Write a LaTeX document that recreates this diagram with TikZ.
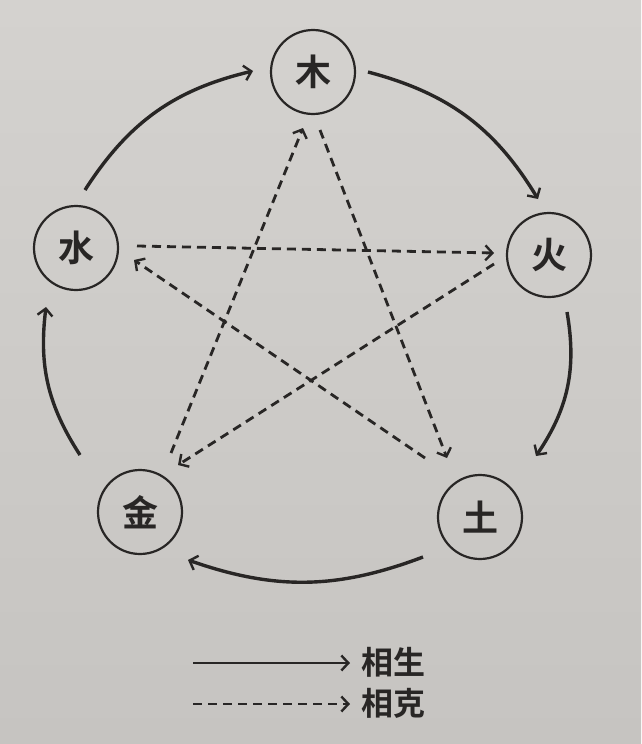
\documentclass[tikz,border=0pt]{standalone}
\usepackage{fontspec}
\newfontfamily\cjk{Noto Sans CJK SC}[BoldFont={* Bold}]
\usetikzlibrary{arrows.meta}
\definecolor{paper1}{RGB}{212,210,207}
\definecolor{paper2}{RGB}{198,196,193}
\definecolor{ink}{RGB}{40,38,37}
\tikzset{
  elem/.style={circle, draw=ink, line width=2.2pt, minimum size=84pt, inner sep=0pt,
    font=\cjk\bfseries\fontsize{36}{36}\selectfont, text=ink},
  tip/.style={-{Straight Barb[length=7pt,width=15pt,line width=2.4pt]}},
  sheng/.style={tip, draw=ink, line width=3.4pt},
  ke/.style={tip, draw=ink, line width=2.8pt, dash pattern=on 9pt off 6pt},
  legtext/.style={font=\cjk\bfseries\fontsize{32}{32}\selectfont, text=ink, anchor=west}
}
\begin{document}
\begin{tikzpicture}[x=1pt,y=-1pt]
\shade[top color=paper1, bottom color=paper2] (0,0) rectangle (641,744);
\useasboundingbox (0,0) rectangle (641,744);
% elements
\node[elem] (mu)   at (313,72)  {木};
\node[elem] (huo)  at (549,255) {火};
\node[elem] (tu)   at (480,517) {土};
\node[elem] (jin)  at (140,512) {金};
\node[elem] (shui) at (76,248)  {水};
% sheng endpoints
\coordinate (s1a) at (85,190);   \coordinate (s1b) at (253,71);
\coordinate (s2a) at (368,72);   \coordinate (s2b) at (538,199);
\coordinate (s3a) at (567,312);  \coordinate (s3b) at (536,456);
\coordinate (s4a) at (423,557);  \coordinate (s4b) at (188,560);
\coordinate (s5a) at (80,455);   \coordinate (s5b) at (46,307);
\draw[sheng] (s1a) to[bend left=22] (s1b);
\draw[sheng] (s2a) to[bend left=22] (s2b);
\draw[sheng] (s3a) to[bend left=22] (s3b);
\draw[sheng] (s4a) to[bend left=20] (s4b);
\draw[sheng] (s5a) to[bend left=20] (s5b);
% ke endpoints
\coordinate (k1a) at (320,130);  \coordinate (k1b) at (447,458);
\coordinate (k2a) at (425,458);  \coordinate (k2b) at (134,260);
\coordinate (k3a) at (137,246);  \coordinate (k3b) at (494,253);
\coordinate (k4a) at (494,264);  \coordinate (k4b) at (178,465);
\coordinate (k5a) at (171,453);  \coordinate (k5b) at (303,128);
\draw[ke] (k1a) -- (k1b);
\draw[ke] (k2a) -- (k2b);
\draw[ke] (k3a) -- (k3b);
\draw[ke] (k4a) -- (k4b);
\draw[ke] (k5a) -- (k5b);
% legend
\coordinate (l1a) at (193,663); \coordinate (l1b) at (350,663);
\coordinate (l2a) at (193,704); \coordinate (l2b) at (350,704);
\draw[tip, draw=ink, line width=2.6pt] (l1a) -- (l1b);
\draw[ke, line width=2.6pt] (l2a) -- (l2b);
\node[legtext] (lsheng) at (358,662) {相生};
\node[legtext] (lke) at (358,703) {相克};
\end{tikzpicture}
\end{document}
